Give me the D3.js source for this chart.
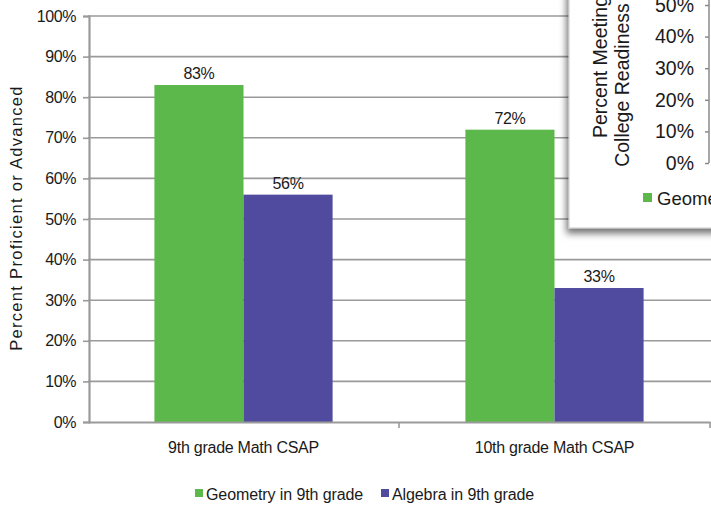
<!DOCTYPE html>
<html><head><meta charset="utf-8">
<script src="https://cdn.jsdelivr.net/npm/d3@7"></script>
<style>html,body{margin:0;padding:0;background:#fff;overflow:hidden}text{font-family:"Liberation Sans",Arial,sans-serif;fill:#1a1a1a}</style>
</head><body><svg id="c" width="711" height="506"></svg>
<script>
const categories = ["9th grade Math CSAP", "10th grade Math CSAP"];
const seriesNames = ["Geometry in 9th grade", "Algebra in 9th grade"];
const geometryValues = [0.83, 0.72];
const algebraValues = [0.56, 0.33];
const yTicks = [0,0.1,0.2,0.3,0.4,0.5,0.6,0.7,0.8,0.9,1.0];
const insetTicks = [0,0.1,0.2,0.3,0.4,0.5];
const insetLegend = ["Geometry in 9th grade"];
const colors = ["#5cb84a", "#504b9e"];

const svg = d3.select("#c");
const fmt = d3.format(".0%");
const grid = "#9a9a9a";

const y = d3.scaleLinear().domain([0,1]).range([422,16]);
const x0 = d3.scaleBand().domain(categories).range([88,710]);
const bw = x0.bandwidth();
const x1 = d3.scaleBand().domain(seriesNames).range([bw*0.2135, bw*0.7865]);

// gridlines
svg.append("g").selectAll("line").data(yTicks.slice(1)).join("line")
  .attr("x1",88).attr("x2",711).attr("y1",d=>y(d)).attr("y2",d=>y(d))
  .attr("stroke",grid).attr("stroke-width",1.6);

// bars
const data = categories.map((c,i)=>({cat:c, vals:[geometryValues[i], algebraValues[i]]}));
const groups = svg.append("g").selectAll("g").data(data).join("g")
  .attr("transform",d=>`translate(${x0(d.cat)},0)`);
groups.selectAll("rect").data(d=>d.vals.map((v,j)=>({v, s:seriesNames[j], j}))).join("rect")
  .attr("x",d=>x1(d.s)).attr("width",x1.bandwidth())
  .attr("y",d=>y(d.v)).attr("height",d=>y(0)-y(d.v)).attr("fill",d=>colors[d.j]);
groups.selectAll("text").data(d=>d.vals.map((v,j)=>({v, s:seriesNames[j], j}))).join("text")
  .attr("x",d=>x1(d.s)+x1.bandwidth()/2).attr("y",d=>y(d.v)-6)
  .attr("text-anchor","middle").attr("font-size",16).attr("letter-spacing","-0.3")
  .text(d=>fmt(d.v));

// y axis
const ya = svg.append("g").attr("transform","translate(89,0)")
  .call(d3.axisLeft(y).tickValues(yTicks).tickFormat(fmt).tickSize(6).tickPadding(7));
ya.select(".domain").attr("stroke",grid).attr("stroke-width",2.2);
ya.selectAll(".tick line").attr("stroke",grid).attr("stroke-width",1.6);
ya.selectAll(".tick text").attr("font-size",16).attr("font-family","Liberation Sans, Arial").attr("fill","#1a1a1a").attr("letter-spacing","-0.4");

// x axis
const xa = svg.append("g").attr("transform","translate(0,422)")
  .call(d3.axisBottom(x0).tickSize(0).tickPadding(20));
xa.select(".domain").attr("stroke",grid).attr("stroke-width",2.2);
xa.selectAll(".tick text").attr("font-size",16).attr("font-family","Liberation Sans, Arial").attr("fill","#1a1a1a").attr("letter-spacing","-0.25");
svg.append("g").selectAll("line").data([x0.range()[0]+bw, x0.range()[1]]).join("line")
  .attr("x1",d=>d).attr("x2",d=>d).attr("y1",422).attr("y2",428)
  .attr("stroke",grid).attr("stroke-width",1.6);

// y title
svg.append("text").attr("transform","translate(22,218) rotate(-90)")
  .attr("text-anchor","middle").attr("font-size",16.5).attr("letter-spacing","1.3")
  .text("Percent Proficient or Advanced");

// legend
const lg = svg.append("g");
const lx = [195, 381];
seriesNames.forEach((s,i)=>{
  lg.append("rect").attr("x",lx[i]).attr("y",489).attr("width",8).attr("height",8).attr("fill",colors[i]);
  lg.append("text").attr("x",lx[i]+11).attr("y",500).attr("font-size",16).attr("letter-spacing","-0.1").text(s);
});

// inset (overlapping chart)
const defs = svg.append("defs");
const f = defs.append("filter").attr("id","sh").attr("x","-20%").attr("y","-20%").attr("width","140%").attr("height","140%");
f.append("feDropShadow").attr("dx",-2).attr("dy",5).attr("stdDeviation",3.5)
  .attr("flood-color","#000").attr("flood-opacity",0.55);
svg.append("rect").attr("x",569).attr("y",-30).attr("width",200).attr("height",258)
  .attr("fill","#fff").attr("stroke","#c8c8c8").attr("stroke-width",1).attr("filter","url(#sh)");

const iy = d3.scaleLinear().domain([0,0.5]).range([163,5]);
const ia = svg.append("g").attr("transform","translate(709,0)")
  .call(d3.axisLeft(iy).tickValues(insetTicks).tickFormat(fmt).tickSize(4).tickPadding(11));
ia.select(".domain").attr("stroke","#8a8a8a").attr("stroke-width",1.5).attr("d","M0,-10V163");
ia.selectAll(".tick line").attr("stroke","#8a8a8a").attr("stroke-width",1.5);
ia.selectAll(".tick text").attr("font-size",19.5).attr("font-family","Liberation Sans, Arial").attr("fill","#1a1a1a");

svg.append("text").attr("transform","translate(607,67) rotate(-90)")
  .attr("text-anchor","middle").attr("font-size",19.5).text("Percent Meeting");
svg.append("text").attr("transform","translate(629,85) rotate(-90)")
  .attr("text-anchor","middle").attr("font-size",19.5).text("College Readiness");

svg.append("rect").attr("x",643).attr("y",193).attr("width",9).attr("height",9).attr("fill",colors[0]);
svg.append("text").attr("x",657).attr("y",205).attr("font-size",18.5).text(insetLegend[0]);
</script></body></html>
